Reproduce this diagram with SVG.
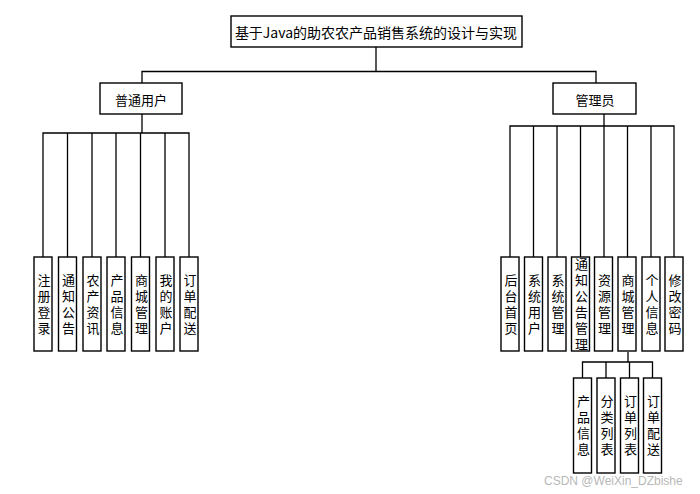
<svg xmlns="http://www.w3.org/2000/svg" width="700" height="494" viewBox="0 0 700 494">
<style>
.bx{fill:#fff;stroke:#000;stroke-width:1.4}
.ln{fill:none;stroke:#000;stroke-width:1.3}
.t{font-family:"Noto Sans CJK SC","Liberation Sans",sans-serif;font-size:13px;fill:#000;text-anchor:middle;dominant-baseline:central}
.v{font-family:"Noto Sans CJK SC","Liberation Sans",sans-serif;font-size:13px;fill:#000;text-anchor:middle;writing-mode:vertical-rl;letter-spacing:3px}
.wm{font-family:"Liberation Sans",Arial,sans-serif;font-size:12px;fill:#b8b8b8}
</style>
<rect width="700" height="494" fill="#fff"/>
<g id="connectors">
<path class="ln" d="M376 47V71.5M142 83V71.5H596V83"/>
<path class="ln" d="M142 114V133M43 257V133H189V257M67.5 133V257M92 133V257M116 133V257M140.5 133V257M165 133V257"/>
<path class="ln" d="M604 114V126M510 257V126H674V257M533.5 126V257M557 126V257M580.5 126V257M604 126V257M627.5 126V257M651 126V257"/>
<path class="ln" d="M628 352V362M582.5 378V362H652.5V378M606 362V378M629.5 362V378"/>
</g>
<g id="root"><rect class="bx" x="231" y="16" width="291" height="31"/><text class="t" x="376" y="31.5" style="font-size:14px">基于Java的助农农产品销售系统的设计与实现</text></g>
<g id="user"><rect class="bx" x="100" y="83" width="82" height="31"/><text class="t" x="141" y="99">普通用户</text></g>
<g id="admin"><rect class="bx" x="553" y="83" width="83" height="31"/><text class="t" x="595" y="99">管理员</text></g>
<g id="u1"><rect class="bx" x="34" y="257" width="18" height="94"/><text class="v" x="44" y="305.5">注册登录</text></g>
<g id="u2"><rect class="bx" x="58.5" y="257" width="18" height="94"/><text class="v" x="68.5" y="305.5">通知公告</text></g>
<g id="u3"><rect class="bx" x="83" y="257" width="18" height="94"/><text class="v" x="93" y="305.5">农产资讯</text></g>
<g id="u4"><rect class="bx" x="107" y="257" width="18" height="94"/><text class="v" x="117" y="305.5">产品信息</text></g>
<g id="u5"><rect class="bx" x="131.5" y="257" width="18" height="94"/><text class="v" x="141.5" y="305.5">商城管理</text></g>
<g id="u6"><rect class="bx" x="156" y="257" width="18" height="94"/><text class="v" x="166" y="305.5">我的账户</text></g>
<g id="u7"><rect class="bx" x="180" y="257" width="18" height="94"/><text class="v" x="190" y="305.5">订单配送</text></g>
<g id="a1"><rect class="bx" x="501" y="257" width="18" height="94"/><text class="v" x="511" y="305.5">后台首页</text></g>
<g id="a2"><rect class="bx" x="524.5" y="257" width="18" height="94"/><text class="v" x="534.5" y="305.5">系统用户</text></g>
<g id="a3"><rect class="bx" x="548" y="257" width="18" height="94"/><text class="v" x="558" y="305.5">系统管理</text></g>
<g id="a4"><rect class="bx" x="571.5" y="257" width="18" height="94"/><text class="v" x="581.5" y="305.5">通知公告管理</text></g>
<g id="a5"><rect class="bx" x="594.5" y="257" width="18" height="94"/><text class="v" x="604.5" y="305.5">资源管理</text></g>
<g id="a6"><rect class="bx" x="618" y="257" width="18" height="94"/><text class="v" x="628" y="305.5">商城管理</text></g>
<g id="a7"><rect class="bx" x="642" y="257" width="18" height="94"/><text class="v" x="652" y="305.5">个人信息</text></g>
<g id="a8"><rect class="bx" x="665" y="257" width="18" height="94"/><text class="v" x="675" y="305.5">修改密码</text></g>
<g id="s1"><rect class="bx" x="573.5" y="378" width="18" height="95"/><text class="v" x="583.5" y="427">产品信息</text></g>
<g id="s2"><rect class="bx" x="597" y="378" width="18" height="95"/><text class="v" x="607" y="427">分类列表</text></g>
<g id="s3"><rect class="bx" x="620.5" y="378" width="18" height="95"/><text class="v" x="630.5" y="427">订单列表</text></g>
<g id="s4"><rect class="bx" x="643.5" y="378" width="18" height="95"/><text class="v" x="653.5" y="427">订单配送</text></g>
<text class="wm" x="544" y="485">CSDN @WeiXin_DZbishe</text>
</svg>
